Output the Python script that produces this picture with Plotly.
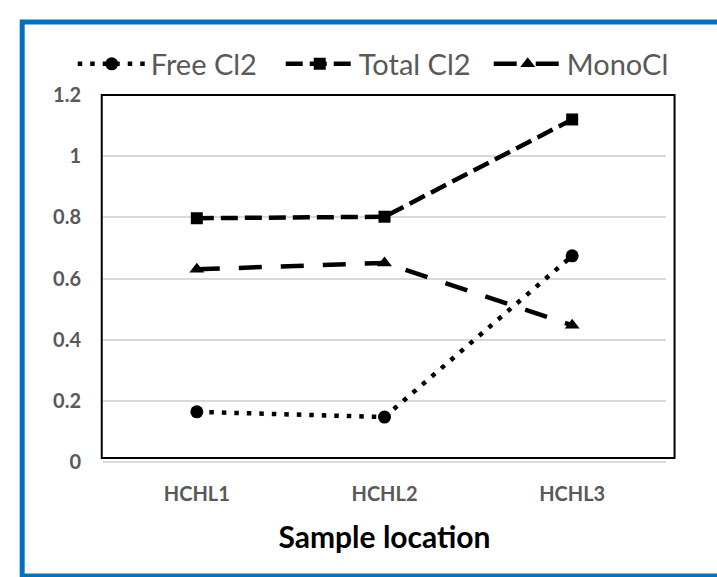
import plotly.graph_objects as go

categories = ["HCHL1", "HCHL2", "HCHL3"]
free_cl2 = [0.164, 0.147, 0.674]
total_cl2 = [0.797, 0.802, 1.120]
mono_cl = [0.630, 0.651, 0.447]
y_ticks = [0, 0.2, 0.4, 0.6, 0.8, 1.0, 1.2]
y_tick_text = ["0", "0.2", "0.4", "0.6", "0.8", "1", "1.2"]

W, H = 717, 577
L, R, T, B = 103.25, 51.25, 95, 115.3
pw, ph = W - L - R, H - T - B

def px(x):
    return (x - L) / pw

def py(y):
    return (H - B - y) / ph

FONT = "Lato"
GRAY = "#595959"

fig = go.Figure()
fig.add_trace(go.Scatter(
    x=categories, y=free_cl2, name="Free Cl2", mode="lines+markers",
    line=dict(color="black", width=4.5, dash="4.5px,8px"),
    marker=dict(symbol="circle", size=13, color="black"),
))
fig.add_trace(go.Scatter(
    x=categories, y=total_cl2, name="Total Cl2", mode="lines+markers",
    line=dict(color="black", width=4.5, dash="17px,7px"),
    marker=dict(symbol="square", size=12, color="black"),
))
fig.add_trace(go.Scatter(
    x=categories, y=mono_cl, name="MonoCl", mode="lines+markers",
    line=dict(color="black", width=4.5, dash="23px,19px"),
    marker=dict(symbol="triangle-up", size=13, color="black"),
))

fig.update_layout(
    width=W, height=H,
    margin=dict(l=L, r=R, t=T, b=B, pad=0),
    paper_bgcolor="white", plot_bgcolor="white",
    font=dict(family=FONT, color=GRAY),
    showlegend=True,
    legend=dict(
        orientation="h", x=px(73), y=py(64), xanchor="left", yanchor="middle",
        font=dict(family=FONT, size=29, color=GRAY),
        itemwidth=68, entrywidth=125, entrywidthmode="pixels",
        bgcolor="rgba(0,0,0,0)",
    ),
    xaxis=dict(
        type="category", range=[-0.5, 2.5],
        showgrid=False, zeroline=False, showline=False,
        ticks="outside", ticklen=14, tickcolor="rgba(0,0,0,0)",
        tickfont=dict(family=FONT, size=20, color=GRAY, weight="bold"),
        title=dict(text="<b>Sample location</b>", standoff=22,
                   font=dict(family=FONT, size=30, color="black")),
    ),
    yaxis=dict(
        range=[0, 1.2], tickvals=y_ticks, ticktext=y_tick_text,
        showgrid=True, gridcolor="#D9D9D9", gridwidth=1.5,
        zeroline=True, zerolinecolor="#D9D9D9", zerolinewidth=1.5,
        showline=False,
        ticks="outside", ticklen=17, tickcolor="rgba(0,0,0,0)",
        tickfont=dict(family=FONT, size=20, color=GRAY, weight="bold"),
    ),
    shapes=[
        dict(type="rect", xref="paper", yref="paper",
             x0=px(102), x1=px(674.3), y0=py(457.7), y1=py(95),
             line=dict(color="black", width=2), fillcolor="rgba(0,0,0,0)",
             layer="above"),
        dict(type="rect", xref="paper", yref="paper",
             x0=px(22.5), x1=px(722), y0=py(575.5), y1=py(22),
             line=dict(color="#0070C0", width=5), fillcolor="rgba(0,0,0,0)",
             layer="above"),
    ],
)

fig.write_html("out.html", config={"displayModeBar": False},
               post_script="document.body.style.margin='0px';")
